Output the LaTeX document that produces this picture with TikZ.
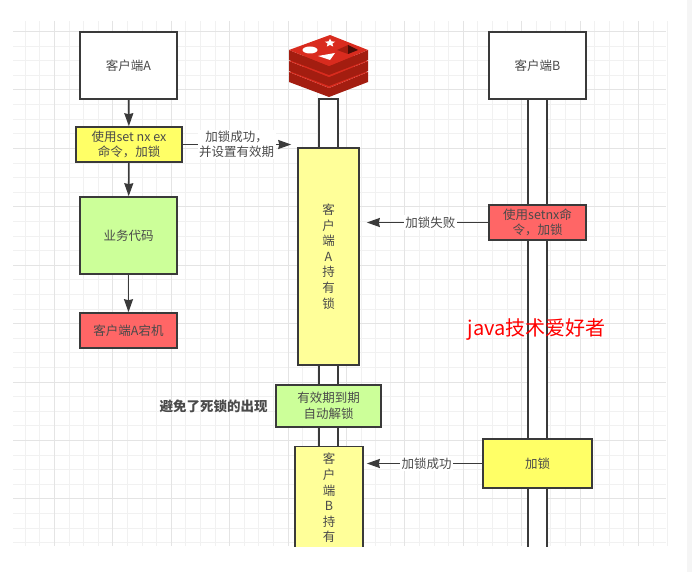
\documentclass[tikz,border=0pt]{standalone}
\usepackage{fontspec}
\setmainfont{Noto Sans CJK SC}
\usetikzlibrary{arrows.meta, shapes.geometric}
\definecolor{linegray}{HTML}{3A3A3A}
\definecolor{textgray}{HTML}{4A4A4A}
\definecolor{gridminor}{HTML}{F1F1F1}
\definecolor{gridmajor}{HTML}{E4E4E4}
\definecolor{sidebar}{HTML}{F5F5F5}
\definecolor{boxyellow}{HTML}{FFFF66}
\definecolor{barcolor}{HTML}{FFFF99}
\definecolor{boxgreen}{HTML}{CCFF99}
\definecolor{boxred}{HTML}{FF6666}
\definecolor{redisbright}{HTML}{D92B1E}
\definecolor{redisdark}{HTML}{A31D10}
\tikzset{
    box/.style={draw=linegray, line width=1.6pt, rectangle, inner sep=0pt, align=center, text=textgray,
        font=\fontsize{12.5}{15.6}\selectfont},
    flow/.style={draw=linegray, line width=1.6pt, -{Stealth[length=13pt, width=9pt, inset=1pt]}},
    flowtext/.style={fill=white, inner sep=1.5pt, align=center, text=textgray,
        font=\fontsize{12.5}{15.2}\selectfont},
}
\begin{document}
\begin{tikzpicture}[x=1pt, y=-1pt]
    \useasboundingbox (0,0) rectangle (692,572);
    \fill[sidebar] (687,0) rectangle (692,572);

    % Grid
    \foreach \i in {0,...,44} {
        \draw[gridminor, line width=1pt] ({25.3+14.6*\i},21) -- ({25.3+14.6*\i},546);
    }
    \foreach \i in {0,...,35} {
        \draw[gridminor, line width=1pt] (13,{31.6+14.6*\i}) -- (666,{31.6+14.6*\i});
    }
    \foreach \i in {0,...,10} {
        \draw[gridmajor, line width=1pt] ({54.5+58.4*\i},21) -- ({54.5+58.4*\i},546);
    }
    \foreach \i in {0,...,8} {
        \draw[gridmajor, line width=1pt] (13,{31.6+58.4*\i}) -- (666,{31.6+58.4*\i});
    }

    % Redis logo
    \foreach \o in {22,11,0} {
        \fill[redisdark] (289,50+\o) -- (329,66+\o) -- (368,50+\o) -- (368,60+\o) -- (329,75+\o) -- (289,60+\o) -- cycle;
        \fill[redisbright] (330,35+\o) -- (368,50+\o) -- (329,66+\o) -- (289,50+\o) -- cycle;
    }
    \fill[white] (310,50) ellipse (7.5 and 3.5);
    \node[star, star points=5, star point ratio=2.2, fill=white, inner sep=0pt, minimum size=11pt, yscale=.8] (redisStar) at (330,43) {};
    \fill[white] (318,56) -- (335,53) -- (330,60) -- cycle;
    \fill[redisdark] (337,50) -- (348,45) -- (348,54) -- cycle;
    \fill[black!55!redisdark] (348,45) -- (358,50) -- (348,54) -- cycle;

    % Lifelines and holder bars, cut off at the bottom of the page
    \begin{scope}
        \clip (0,0) rectangle (692,546);
        \node[box, fill=white, minimum width=19.5pt, minimum height=461pt] (lifeRedis) at (328.5,329.5) {};
        \node[box, fill=white, minimum width=19.5pt, minimum height=461pt] (lifeB) at (537.5,329.5) {};
        \node[box, fill=barcolor, minimum width=68pt, minimum height=103pt] (holdB) at (329,498) {客\\户\\端\\B\\持\\有};
    \end{scope}

    % Boxes for client A
    \node[box, fill=white, minimum width=97pt, minimum height=67pt] (clientA) at (128.5,65.5) {客户端A};
    \node[box, fill=boxyellow, minimum width=106pt, minimum height=35pt] (setA) at (129,144.5) {使用set nx ex\\命令，加锁};
    \node[box, fill=boxgreen, minimum width=97pt, minimum height=77pt] (bizA) at (128.5,235.5) {业务代码};
    \node[box, fill=boxred, minimum width=97pt, minimum height=35pt] (downA) at (128.5,330.5) {客户端A宕机};

    % Boxes for redis
    \node[box, fill=barcolor, minimum width=61pt, minimum height=217pt] (holdA) at (328.5,256.5) {客\\户\\端\\A\\持\\有\\锁};
    \node[box, fill=boxgreen, minimum width=105pt, minimum height=42pt] (unlock) at (328.5,406) {有效期到期\\自动解锁};

    % Boxes for client B
    \node[box, fill=white, minimum width=97pt, minimum height=67pt] (clientB) at (537.5,65.5) {客户端B};
    \node[box, fill=boxred, minimum width=97pt, minimum height=35pt] (setB) at (537.5,222.5) {使用setnx命\\令，加锁};
    \node[box, fill=boxyellow, minimum width=109pt, minimum height=49pt] (lockB) at (537.5,463.5) {加锁};

    % Free texts
    \node[text=textgray, font=\fontsize{13.5}{16}\selectfont\bfseries] (avoidText) at (213.5,406) {避免了死锁的出现};
    \node[text=red, font=\fontsize{20}{24}\selectfont] (markText) at (536.5,329.5) {java技术爱好者};

    % Arrows
    \path (clientA) edge[flow] (setA);
    \path (setA) edge[flow] (bizA);
    \path (bizA) edge[flow] (downA);
    \path (setA.east) edge[flow, shorten >=6pt] node[flowtext, pos=.47] {加锁成功，\\并设置有效期} (setA.east -| holdA.west);
    \path (setB.west) edge[flow, shorten >=7pt] node[flowtext, pos=.45] {加锁失败} (setB.west -| holdA.east);
    \path (lockB.west) edge[flow, shorten >=3pt] node[flowtext, pos=.47] {加锁成功} (lockB.west -| holdB.east);
\end{tikzpicture}
\end{document}
